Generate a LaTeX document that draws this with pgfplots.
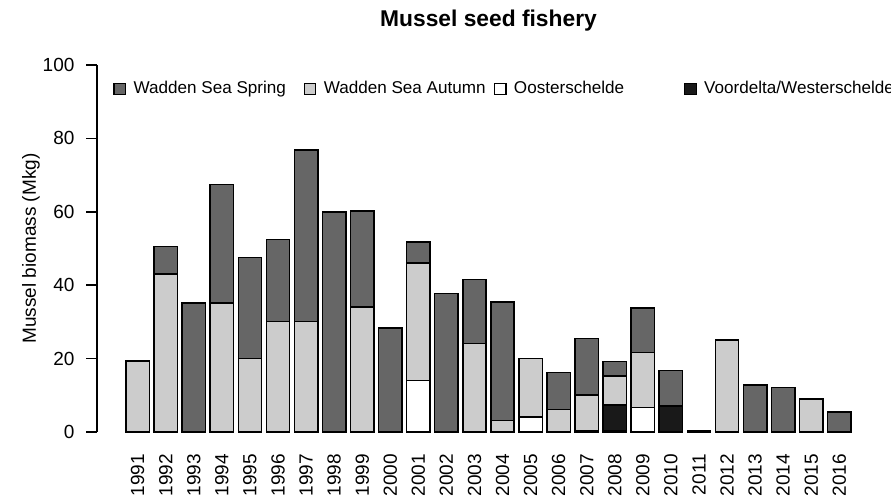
\documentclass[border=0pt]{standalone}
\usepackage{fontspec}
\setmainfont{Liberation Sans}
\usepackage{pgfplots}
\usepackage{pgfplotstable}
\pgfplotsset{compat=1.18}
\definecolor{spring}{gray}{0.4}
\definecolor{autumn}{gray}{0.8}
\definecolor{voord}{gray}{0.1}

% columns: O = Oosterschelde, V = Voordelta/Westerschelde, A = Wadden Sea Autumn, S = Wadden Sea Spring
\pgfplotstableread{
x  O    V    A    S
0  0    0    19.4 0
1  0    0    43.0 7.5
2  0    0    0    35.1
3  0    0    35.1 32.4
4  0    0    20.0 27.5
5  0    0    30.1 22.4
6  0    0    30.1 46.8
7  0    0    0    60.0
8  0    0    34.0 26.2
9  0    0    0    28.3
10 14.0 0    32.0 5.8
11 0    0    0    37.7
12 0    0    24.1 17.5
13 0    0    3.1  32.3
14 4.1  0    15.9 0
15 0    0    6.1  10.1
16 0    0.3  9.8  15.4
17 0.3  7.1  7.9  3.9
18 6.7  0    15.0 12.1
19 0    7.1  0    9.7
20 0    0.3  0    0
21 0    0    25.1 0
22 0    0    0    12.8
23 0    0    0    12.1
24 0    0    9.0  0
25 0    0    0    5.4
}\seed

\begin{document}
\begin{tikzpicture}
\useasboundingbox (0,0) rectangle (445.5pt,248.5pt);
\begin{axis}[
  at={(48.5pt,32.5pt)}, anchor=south west,
  scale only axis, width=391.5pt, height=183.5pt,
  ybar stacked, bar width=0.8333,
  xmin=-1.45, xmax=26.45, ymin=0, ymax=100,
  clip=false,
  axis x line=bottom, axis y line=left,
  x axis line style={draw=none},
  y axis line style={-, line width=0.75pt},
  xtick={0,...,25},
  xticklabels={1991,1992,1993,1994,1995,1996,1997,1998,1999,2000,2001,2002,2003,2004,2005,2006,2007,2008,2009,2010,2011,2012,2013,2014,2015,2016},
  xtick style={draw=none},
  xticklabel style={rotate=90, anchor=east},
  xticklabel shift=2.3pt,
  ytick={0,20,40,60,80,100},
  tick align=outside, major tick length=5.25pt,
  ytick style={line width=0.75pt, black},
  yticklabel style={xshift=-2.5pt},
  tick label style={font=\fontsize{9.5}{11.4}\selectfont},
  /pgf/number format/assume math mode=true,
  every axis y label/.style={at={(axis description cs:-0.0843,0.5)}, rotate=90, anchor=center},
  ylabel={Mussel biomass (Mkg)},
  label style={font=\fontsize{9.5}{11.4}\selectfont},
  title={Mussel seed fishery},
  title style={at={(axis description cs:0.5,1)}, anchor=base, yshift=13.25pt, font=\fontsize{11.4}{13.7}\selectfont\bfseries},
  legend columns=4, legend cell align=left,
  legend style={draw=none, fill=none, at={(axis description cs:0.0204,0.9346)}, anchor=west,
    inner sep=0pt, nodes={inner sep=0pt}, column sep=0pt,
    /tikz/every odd column/.append style={column sep=3.7pt},
    font=\fontsize{8.55}{10}\selectfont},
]
\addlegendimage{legend image code/.code={\draw[black, fill=spring, line width=0.6pt] (0pt,-2.9pt) rectangle (5.8pt,2.9pt);}}
\addlegendentry{\makebox[85pt][l]{Wadden Sea Spring}}
\addlegendimage{legend image code/.code={\draw[black, fill=autumn, line width=0.6pt] (0pt,-2.9pt) rectangle (5.8pt,2.9pt);}}
\addlegendentry{\makebox[85pt][l]{Wadden Sea Autumn}}
\addlegendimage{legend image code/.code={\draw[black, fill=white, line width=0.6pt] (0pt,-2.9pt) rectangle (5.8pt,2.9pt);}}
\addlegendentry{\makebox[85pt][l]{Oosterschelde}}
\addlegendimage{legend image code/.code={\draw[black, fill=voord, line width=0.6pt] (0pt,-2.9pt) rectangle (5.8pt,2.9pt);}}
\addlegendentry{Voordelta/Westerschelde}

\addplot[forget plot, fill=white, draw=black, line width=0.75pt] table[x=x, y=O] {\seed};
\addplot[forget plot, fill=voord, draw=black, line width=0.75pt] table[x=x, y=V] {\seed};
\addplot[forget plot, fill=autumn, draw=black, line width=0.75pt] table[x=x, y=A] {\seed};
\addplot[forget plot, fill=spring, draw=black, line width=0.75pt] table[x=x, y=S] {\seed};
\end{axis}
\end{tikzpicture}
\end{document}
